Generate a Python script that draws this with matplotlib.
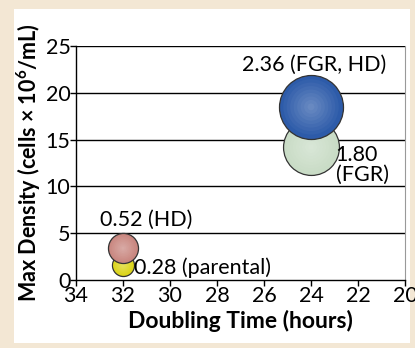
import matplotlib
matplotlib.use("Agg")
import matplotlib.pyplot as plt
from matplotlib.patches import Rectangle
import matplotlib.colors as mcolors
import numpy as np

plt.rcParams['font.family'] = ['Lato', 'DejaVu Sans']
plt.rcParams['mathtext.fontset'] = 'custom'
plt.rcParams['mathtext.rm'] = 'Lato'
plt.rcParams['mathtext.bf'] = 'Lato:bold'

# Data
labels = ["0.28 (parental)", "0.52 (HD)", "1.80\n(FGR)", "2.36 (FGR, HD)"]
doubling_time = [32, 32, 24, 24]
max_density = [1.6, 3.4, 14.2, 18.5]
growth_value = [0.28, 0.52, 1.80, 2.36]
colors = ["#dcd51a", "#c98780", "#c9dcc6", "#2d5ba9"]
xticks = [34, 32, 30, 28, 26, 24, 22, 20]
yticks = [0, 5, 10, 15, 20, 25]

fig = plt.figure(figsize=(4.15, 3.48), dpi=100)
fig.patch.set_facecolor("#f3e7d4")
fig.patches.append(Rectangle((14/415, 1-343/348), (410-14)/415, (343-9)/348,
                             transform=fig.transFigure, facecolor="white",
                             edgecolor="none", zorder=-10))

ax = fig.add_axes([76/415, 1-280/348, (405-76)/415, (280-46)/348])
ax.set_zorder(5)
ax.set_facecolor("white")
ax.set_xlim(34, 20)
ax.set_ylim(0, 25)

for y in yticks[1:]:
    ax.axhline(y, color="black", lw=1.0, zorder=1)

for i in range(len(growth_value)):
    s = 900 * growth_value[i]
    base = np.array(mcolors.to_rgb(colors[i]))
    ax.scatter(doubling_time[i], max_density[i], s=s, color=base,
               edgecolor="#333333", linewidth=0.9, zorder=3 + i)
    # soft radial highlight
    n = 8
    for k in range(1, n + 1):
        frac = 1 - k / (n + 1)
        c = base + (1 - base) * 0.28 * (k / n)
        ax.scatter(doubling_time[i], max_density[i], s=s * frac ** 2 * 0.95,
                   color=c, edgecolor="none", zorder=3 + i + 0.01 * k)

# annotations
ax.text(31.55, 1.35, labels[0], ha="left", va="center", fontsize=15.5, zorder=10)
ax.text(31.0, 6.4, labels[1], ha="center", va="center", fontsize=15.5, zorder=10)
ax.text(22.95, 12.3, labels[2], ha="left", va="center", fontsize=15.5,
        linespacing=0.95, zorder=10)
ax.text(23.85, 23.0, labels[3], ha="center", va="center", fontsize=15.5, zorder=10)

ax.set_xticks(xticks)
ax.set_yticks(yticks)
ax.tick_params(axis="both", labelsize=15.5, length=4, width=1, color="black", pad=0)
ax.spines["top"].set_visible(False)
ax.spines["right"].set_color("#999999")
ax.spines["right"].set_linewidth(0.8)
ax.spines["left"].set_linewidth(1.0)
ax.spines["bottom"].set_linewidth(1.0)

ax.set_xlabel("Doubling Time (hours)", fontsize=16.5, fontweight="bold", labelpad=3)
ax.set_ylabel("Max Density (cells × 10$^{\\mathbf{6}}$/mL)", fontsize=15.5,
              fontweight="bold", labelpad=2)

fig.savefig("out.png", dpi=100, facecolor=fig.get_facecolor())
